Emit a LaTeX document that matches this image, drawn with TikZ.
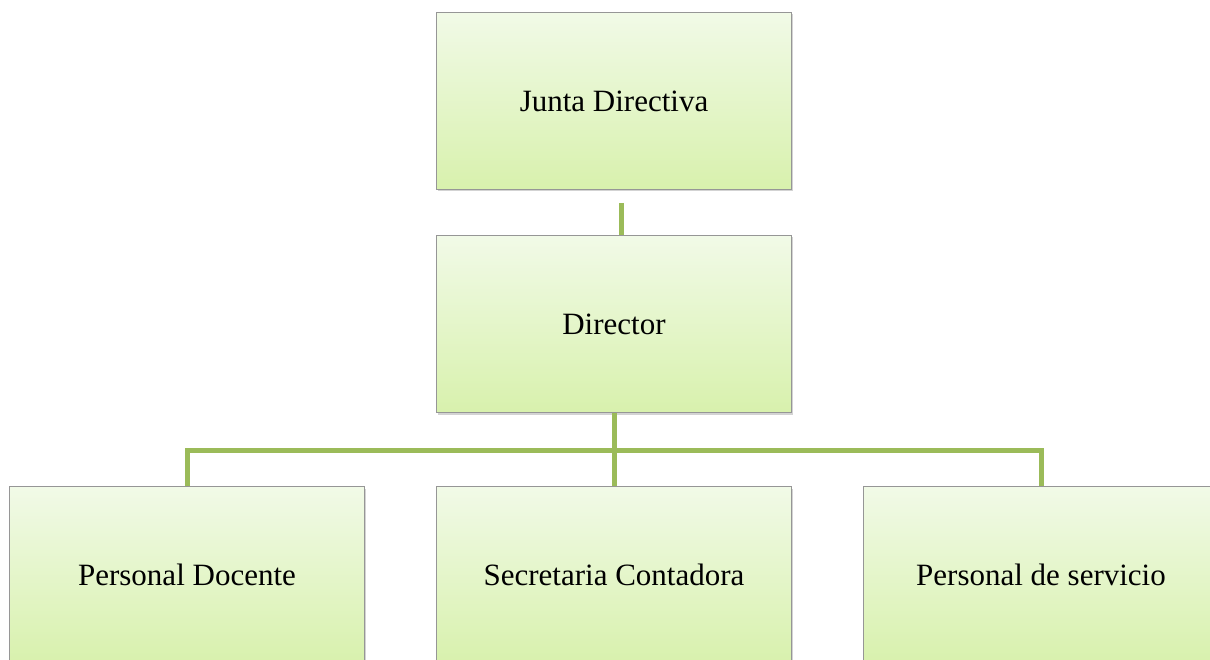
\documentclass[tikz,border=0pt]{standalone}
\usepackage{fontspec}
\setmainfont{Liberation Serif}
\usetikzlibrary{shadows}

\definecolor{boxtop}{RGB}{241,250,231}
\definecolor{boxbottom}{RGB}{216,241,173}
\definecolor{boxline}{RGB}{150,150,150}
\definecolor{olivegreen}{RGB}{155,187,89}

\tikzset{
  cargo/.style={rectangle, draw=boxline, line width=1.2pt,
    top color=boxtop, bottom color=boxbottom,
    minimum width=355pt, minimum height=177pt, inner sep=0pt,
    font=\fontsize{31}{37}\selectfont,
    drop shadow={shadow xshift=1.5pt, shadow yshift=-2pt, opacity=0.35, fill=gray}},
  linea/.style={line width=5pt, color=olivegreen}
}

\begin{document}
\begin{tikzpicture}[x=1pt,y=-1pt]
\useasboundingbox (0,0) rectangle (1210,660);

%boxes
\node[cargo] (junta) at (614,101) {Junta Directiva};
\node[cargo] (director) at (614,324) {Director};
\node[cargo] (docente) at (187,575) {Personal Docente};
\node[cargo] (secretaria) at (614,575) {Secretaria Contadora};
\node[cargo] (servicio) at (1041,575) {Personal de servicio};

%connectors
\coordinate (juntaend) at (621,203);
\coordinate (bar) at (614,450);
\draw[linea] (juntaend) -- (juntaend |- director.north);
\draw[linea] (director.south) -- (secretaria.north);
\draw[linea] (docente.north) |- (bar) -| (servicio.north);
\end{tikzpicture}
\end{document}
